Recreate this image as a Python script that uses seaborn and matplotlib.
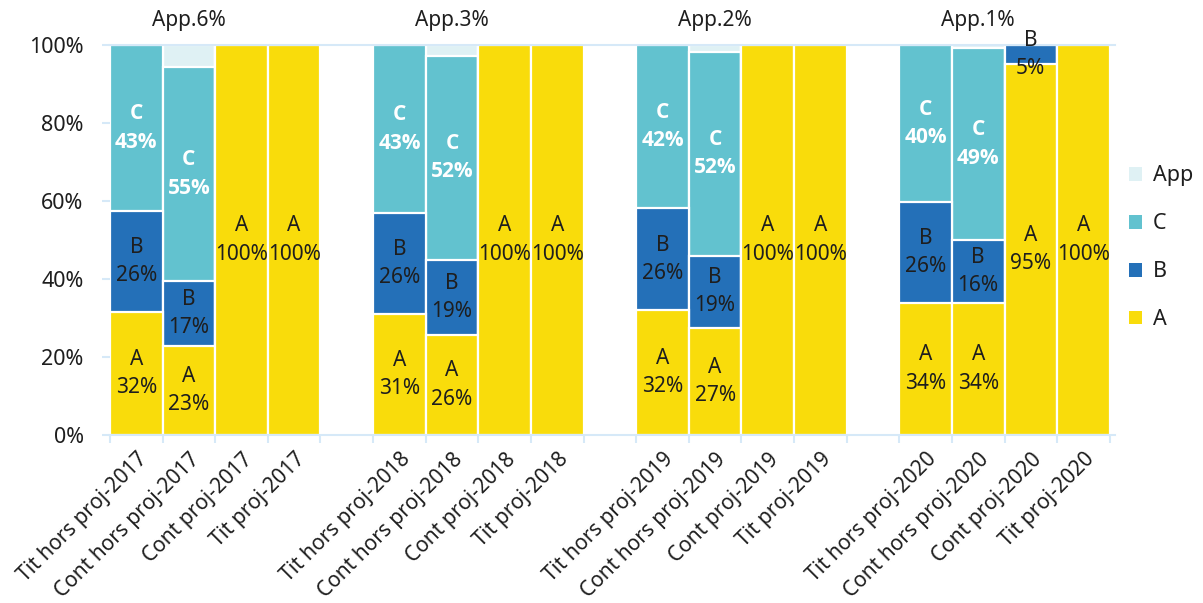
import numpy as np
import pandas as pd
import matplotlib
matplotlib.use("Agg")
import matplotlib.pyplot as plt
from matplotlib.patches import Patch
import seaborn as sns

years = ["2017", "2018", "2019", "2020"]
kinds = ["Tit hors proj", "Cont hors proj", "Cont proj", "Tit proj"]
categories = [f"{k}-{y}" for y in years for k in kinds]

# parts in % (one value per category above)
a_vals = [31.6, 22.8, 100, 100, 31.0, 25.6, 100, 100, 32.0, 27.4, 100, 100, 33.8, 33.8, 95.2, 100]
b_vals = [25.8, 16.6, 0, 0, 25.9, 19.3, 0, 0, 26.2, 18.6, 0, 0, 25.9, 16.2, 4.8, 0]
c_vals = [42.6, 55.0, 0, 0, 43.1, 52.4, 0, 0, 41.8, 52.2, 0, 0, 40.3, 49.2, 0, 0]
app_vals = [0, 5.6, 0, 0, 0, 2.7, 0, 0, 0, 1.8, 0, 0, 0, 0.8, 0, 0]

colors = {"A": "#f9dc0b", "B": "#2470b8", "C": "#62c2cf", "App": "#dff1f4"}
axis_col = "#d6e9f8"
text_col = "#1e1e1e"

df = pd.DataFrame({"cat": categories, "A": a_vals, "B": b_vals, "C": c_vals, "App": app_vals})
df["top_A"] = df["A"]
df["top_B"] = df["top_A"] + df["B"]
df["top_C"] = df["top_B"] + df["C"]
df["top_App"] = df["top_C"] + df["App"]

# order with an empty slot between years
order = []
for i, y in enumerate(years):
    order += [f"{k}-{y}" for k in kinds]
    if i < len(years) - 1:
        order.append(" " * (i + 1))
pos = {c: order.index(c) for c in categories}

sns.set_theme(style="white")
plt.rcParams["font.family"] = ["Noto Sans", "DejaVu Sans"]

fig = plt.figure(figsize=(12.03, 6.03), dpi=100)
ax = fig.add_axes([110 / 1203, 1 - 435 / 603, 1005 / 1203, 390 / 603])

# stacked bars: draw cumulative tops from highest layer down
for layer in ["App", "C", "B", "A"]:
    sns.barplot(data=df, x="cat", y=f"top_{layer}", order=order, color=colors[layer],
                saturation=1, width=1.0, edgecolor="white", linewidth=1.6,
                errorbar=None, ax=ax)

# segment labels
for _, row in df.iterrows():
    x = pos[row["cat"]]
    base = 0
    for layer in ["A", "B", "C"]:
        v = row[layer]
        if v > 0:
            mid = base + v / 2
            if layer == "C":
                ax.text(x, mid, f"C\n{v:.0f}%", ha="center", va="center", color="white",
                        fontsize=15, fontweight="bold", linespacing=1.45,
                        family=["Open Sans", "DejaVu Sans"])
            else:
                ax.text(x, mid, f"{layer}\n{v:.0f}%", ha="center", va="center", color=text_col,
                        fontsize=15, linespacing=1.45)
        base += v
    if row["App"] > 0:
        ax.text(x, 106.2, f"App.{row['App']:.0f}%", ha="center", va="center", color=text_col,
                fontsize=15, clip_on=False)

ax.set_xlim(-0.5, 18.6)
ax.set_ylim(0, 100)
ax.set_xlabel("")
ax.set_ylabel("")

ax.set_xticks([pos[c] for c in categories])
ax.set_xticklabels(categories, rotation=45, ha="right", va="top", rotation_mode="anchor",
                   fontsize=15, color=text_col)
ax.set_xticks(np.arange(-0.5, 19, 1), minor=True)
ax.tick_params(axis="x", which="major", length=0, pad=10)
ax.tick_params(axis="x", which="minor", length=6, width=1.5, color=axis_col, bottom=True)

ax.set_yticks(np.arange(0, 101, 20))
ax.set_yticklabels([f"{v}%" for v in range(0, 101, 20)], fontsize=15.5, color=text_col)
ax.tick_params(axis="y", length=6, width=1.5, color=axis_col, left=True, pad=13)

for side in ["left", "right"]:
    ax.spines[side].set_visible(False)
for side in ["top", "bottom"]:
    ax.spines[side].set_color(axis_col)
    ax.spines[side].set_linewidth(1.5)

handles = [Patch(facecolor=colors[k], edgecolor="none", label=k) for k in ["App", "C", "B", "A"]]
ax.legend(handles=handles, loc="center left", bbox_to_anchor=(0.995, 0.48), frameon=False,
          fontsize=15.5, handlelength=0.6, handleheight=0.6, labelspacing=1.25,
          handletextpad=0.5, labelcolor=text_col, borderaxespad=0.5)

fig.savefig("out.png", dpi=100)
